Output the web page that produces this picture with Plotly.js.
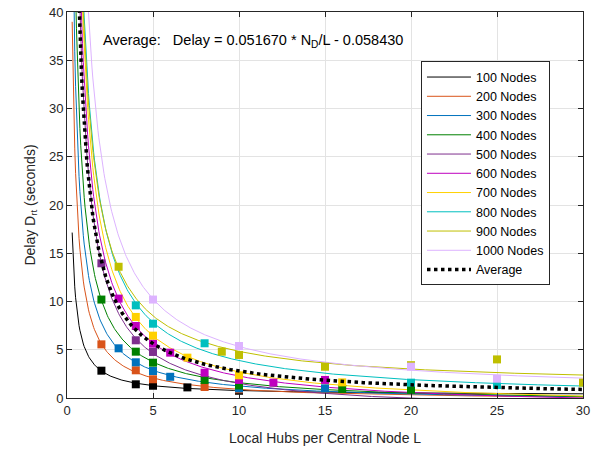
<!DOCTYPE html>
<html>
<head>
<meta charset="utf-8">
<script src="https://cdn.plot.ly/plotly-3.0.1.min.js"></script>
<style>html,body{margin:0;padding:0;background:#fff;}#chart{width:600px;height:450px;}</style>
</head>
<body>
<div id="chart"></div>
<script>
// ---- data ----
const seriesNames = ['100 Nodes','200 Nodes','300 Nodes','400 Nodes','500 Nodes','600 Nodes','700 Nodes','800 Nodes','900 Nodes','1000 Nodes'];
const seriesColors = ['#000000','#D95319','#0072BD','#008000','#7E2F8E','#BF00BF','#FFD100','#00BFBF','#BFBF00','#DDB3FF'];

const L100 = [2, 4, 5, 7, 10];
const D100 = [2.83, 1.42, 1.27, 1.10, 0.75];
const L200 = [2, 4, 5, 8, 10];
const D200 = [5.56, 2.87, 1.94, 1.14, 0.90];
const L300 = [3, 4, 5, 6, 10, 15];
const D300 = [5.15, 3.70, 2.80, 2.20, 1.00, 1.00];
const L400 = [2, 4, 5, 8, 10, 16, 20];
const D400 = [10.2, 4.80, 3.66, 1.87, 1.30, 0.93, 0.85];
const L500 = [2, 4, 5];
const D500 = [13.96, 5.98, 4.77];
const L600 = [3, 4, 5, 6, 8, 10, 12, 15];
const D600 = [10.3, 7.46, 5.63, 4.70, 2.62, 1.87, 1.59, 1.87];
const L700 = [4, 5, 7, 10, 16];
const D700 = [8.40, 6.46, 4.18, 2.35, 1.62];
const L800 = [4, 5, 8, 20, 25];
const D800 = [9.60, 7.70, 5.67, 1.59, 1.35];
const L900 = [3, 9, 10, 15, 20, 25, 30];
const D900 = [13.6, 4.80, 4.46, 3.24, 3.40, 4.00, 1.59];
const L1000 = [5, 10, 20, 25];
const D1000 = [10.2, 5.39, 3.25, 2.00];

const avgCoefA = 0.051670;   // Delay = A * N_D / L + B
const avgCoefB = -0.058430;
const avgNodes = 550;

const xTicks = [0, 5, 10, 15, 20, 25, 30];
const yTicks = [0, 5, 10, 15, 20, 25, 30, 35, 40];

const allL = [L100, L200, L300, L400, L500, L600, L700, L800, L900, L1000];
const allD = [D100, D200, D300, D400, D500, D600, D700, D800, D900, D1000];

// least-squares fit of D = a/L + b for each series
function fitInv(Ls, Ds) {
  const xs = Ls.map(v => 1 / v);
  const n = xs.length;
  const mx = xs.reduce((s, v) => s + v, 0) / n;
  const my = Ds.reduce((s, v) => s + v, 0) / n;
  let sxy = 0, sxx = 0;
  for (let i = 0; i < n; i++) { sxy += (xs[i] - mx) * (Ds[i] - my); sxx += (xs[i] - mx) ** 2; }
  const a = sxy / sxx;
  return [a, my - a * mx];
}

// sampling grid for the fitted curves
const grid = [];
for (let L = 0.3; L <= 30.0001; L += 0.05) grid.push(+L.toFixed(3));

const traces = [];
// fitted curves (legend entries)
for (let k = 0; k < seriesNames.length; k++) {
  const [a, b] = fitInv(allL[k], allD[k]);
  traces.push({
    x: grid, y: grid.map(L => a / L + b),
    type: 'scatter', mode: 'lines', name: seriesNames[k],
    line: {color: seriesColors[k], width: 1}, hoverinfo: 'skip'
  });
}
// measured points
for (let k = 0; k < seriesNames.length; k++) {
  traces.push({
    x: allL[k], y: allD[k], type: 'scatter', mode: 'markers', showlegend: false,
    marker: {symbol: 'square', size: 8, color: seriesColors[k]}, cliponaxis: true
  });
}
// average curve
traces.push({
  x: grid, y: grid.map(L => avgCoefA * avgNodes / L + avgCoefB),
  type: 'scatter', mode: 'lines', name: 'Average',
  line: {color: '#000000', width: 3.5, dash: 'dot'}
});

const axisCommon = {
  showline: true, linecolor: '#262626', linewidth: 1, mirror: 'ticks',
  ticks: 'inside', ticklen: 5, tickcolor: '#262626',
  showgrid: true, gridcolor: '#E3E3E3', gridwidth: 1, zeroline: false,
  tickfont: {family: 'Liberation Sans, Arial, sans-serif', size: 13, color: '#262626'}
};

const layout = {
  width: 600, height: 450,
  margin: {l: 67, r: 17, t: 12, b: 52},
  paper_bgcolor: '#ffffff', plot_bgcolor: '#ffffff',
  font: {family: 'Liberation Sans, Arial, sans-serif', color: '#262626'},
  xaxis: Object.assign({}, axisCommon, {
    range: [0, 30], tickvals: xTicks, ticktext: xTicks.map(String),
    title: {text: 'Local Hubs per Central Node L', font: {size: 14, color: '#262626'}, standoff: 16}
  }),
  yaxis: Object.assign({}, axisCommon, {
    range: [0, 40], tickvals: yTicks, ticktext: yTicks.map(String),
    title: {text: 'Delay D<sub>rt</sub> (seconds)', font: {size: 14, color: '#262626'}, standoff: 10}
  }),
  showlegend: true,
  legend: {
    x: 0.686, y: 0.872, xanchor: 'left', yanchor: 'top',
    bgcolor: '#ffffff', bordercolor: '#262626', borderwidth: 1,
    font: {family: 'Liberation Sans, Arial, sans-serif', size: 12.5, color: '#000000'},
    itemwidth: 44, tracegroupgap: 0
  },
  annotations: [{
    xref: 'paper', yref: 'paper', x: 0.066, y: 0.925, xanchor: 'left', yanchor: 'middle',
    text: 'Average:   Delay = 0.051670 * N<sub>D</sub>/L - 0.058430',
    showarrow: false, font: {family: 'Liberation Sans, Arial, sans-serif', size: 14.5, color: '#000000'}
  }]
};

Plotly.newPlot('chart', traces, layout, {displayModeBar: false, staticPlot: true});
</script>
</body>
</html>
